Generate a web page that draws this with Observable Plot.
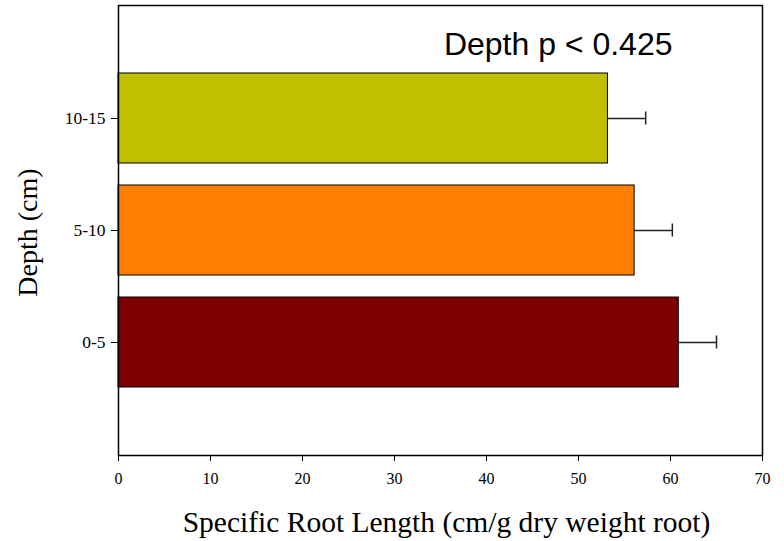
<!DOCTYPE html>
<html>
<head>
<meta charset="utf-8">
<script src="https://cdn.jsdelivr.net/npm/d3@7"></script>
<script src="https://cdn.jsdelivr.net/npm/@observablehq/plot@0.6"></script>
<style>
  html, body { margin: 0; padding: 0; background: #fff; }
  #chart svg { display: block; }
</style>
</head>
<body>
<div id="chart"></div>
<script>
const depths = ["10-15", "5-10", "0-5"];
const means = [53.2, 56.1, 60.9];
const errors = [4.1, 4.1, 4.1];
const colors = ["#C0C000", "#FF8000", "#800000"];
const xTicks = [0, 10, 20, 30, 40, 50, 60, 70];
const annotation = "Depth p < 0.425";
const xLabel = "Specific Root Length (cm/g dry weight root)";
const yLabel = "Depth (cm)";

const data = depths.map((d, i) => ({depth: d, mean: means[i], upper: means[i] + errors[i], color: colors[i]}));

const serif = "'Liberation Serif', 'Times New Roman', serif";
const sans = "'Liberation Sans', Arial, sans-serif";

const chart = Plot.plot({
  width: 784,
  height: 541,
  marginLeft: 118,
  marginRight: 22,
  marginTop: 5,
  marginBottom: 86,
  style: {fontFamily: serif, background: "#fff", color: "#000"},
  x: {domain: [0, 70], ticks: xTicks},
  y: {domain: depths, paddingInner: 0.2, paddingOuter: 0.6},
  color: {type: "identity"},
  marks: [
    Plot.barX(data, {y: "depth", x: "mean", fill: "color", stroke: "#000", strokeWidth: 1}),
    Plot.ruleY(data, {y: "depth", x1: "mean", x2: "upper", stroke: "#222", strokeWidth: 1.5}),
    Plot.tickX(data, {y: "depth", x: "upper", stroke: "#222", strokeWidth: 1.5, insetTop: 38.5, insetBottom: 38.5}),
    Plot.frame({stroke: "#000", strokeWidth: 1.5}),
    Plot.axisX({ticks: xTicks, tickSize: 6, tickPadding: 11, fontSize: 16, label: null, fontFamily: serif}),
    Plot.axisY({tickSize: 7, tickPadding: 6, fontSize: 17.5, label: null, fontFamily: serif}),
    Plot.text([xLabel], {frameAnchor: "bottom", dx: 6, dy: 76, fontSize: 29.5, fontFamily: serif, fill: "#000"}),
    Plot.text([yLabel], {frameAnchor: "left", textAnchor: "middle", dx: -90, dy: 2, rotate: -90, fontSize: 28, fontFamily: serif, fill: "#000"}),
    Plot.text([annotation], {frameAnchor: "top-right", dx: -90, dy: 27, textAnchor: "end", fontSize: 32, fontFamily: sans, fill: "#000"})
  ]
});
document.getElementById("chart").appendChild(chart);
</script>
</body>
</html>
